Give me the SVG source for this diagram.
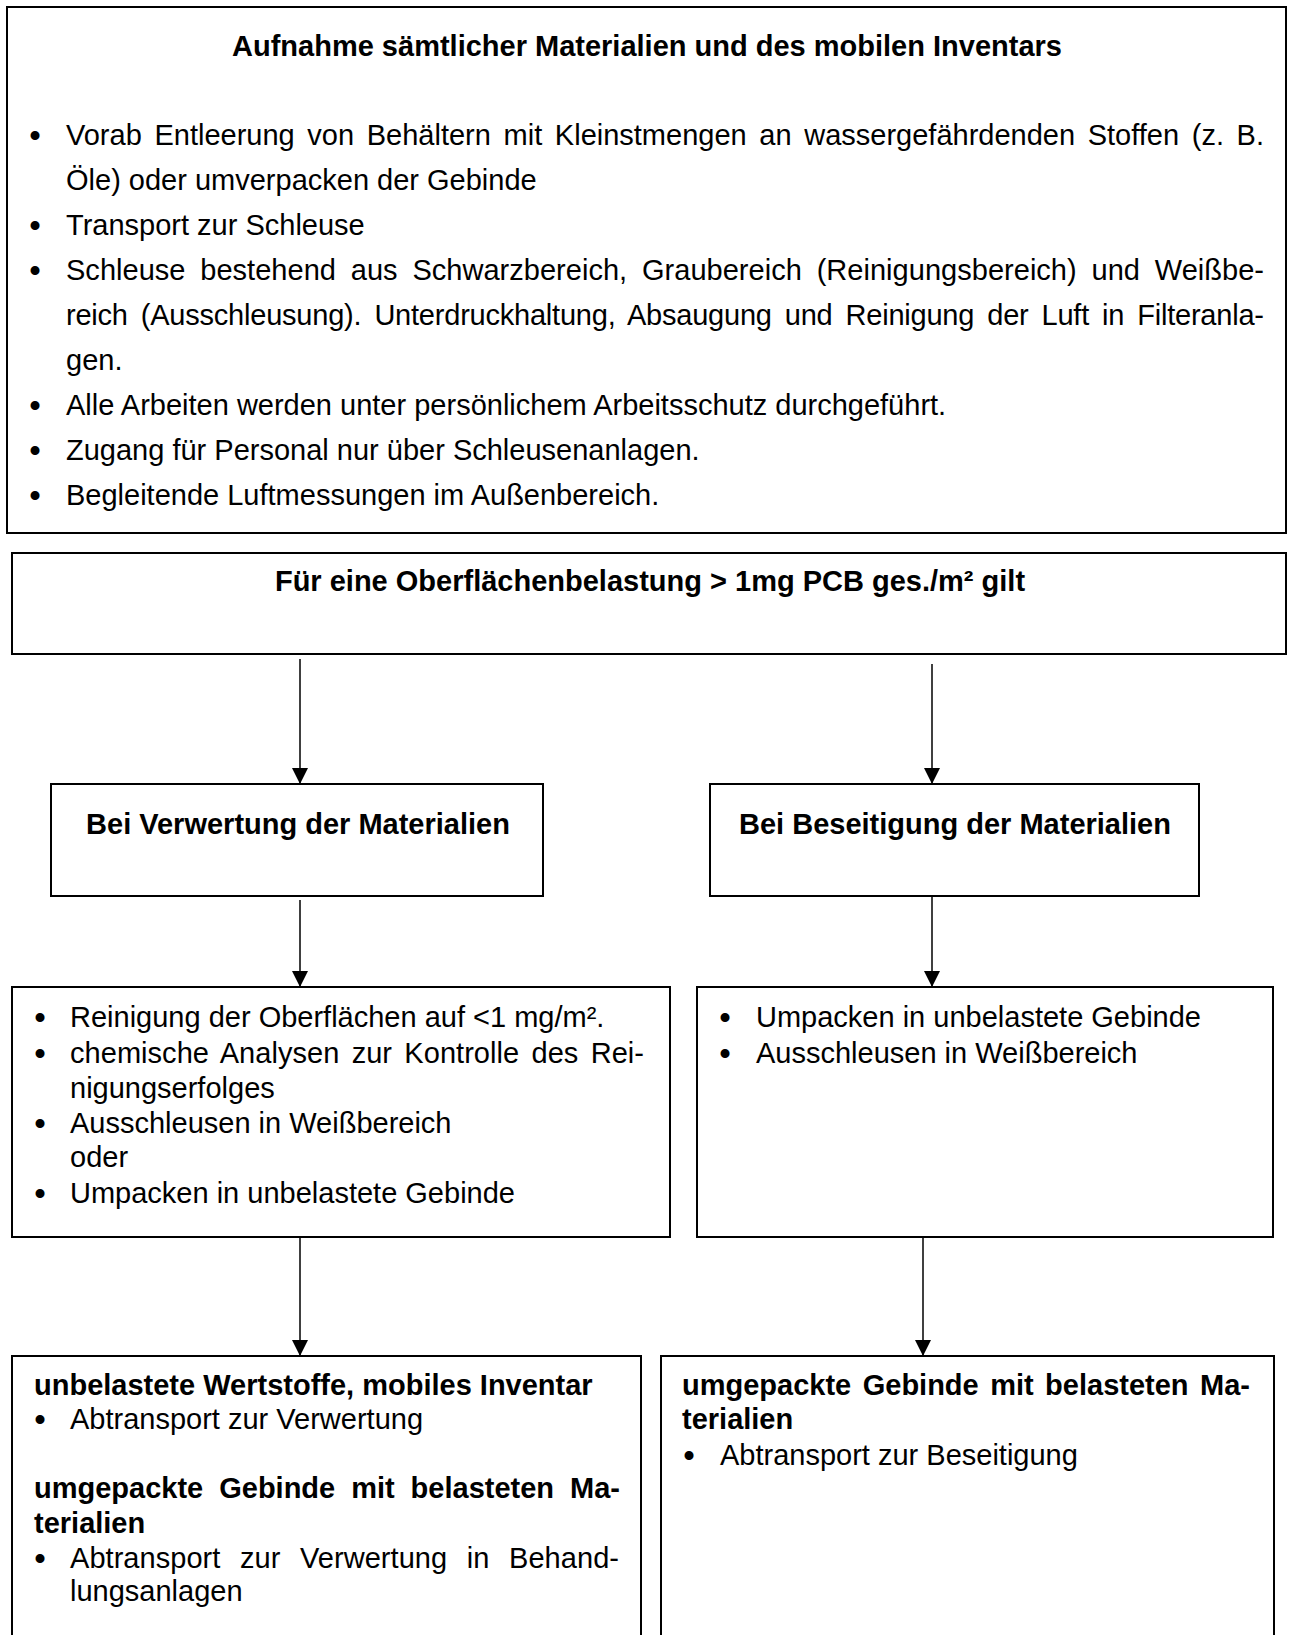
<svg xmlns="http://www.w3.org/2000/svg" width="1290" height="1635" viewBox="0 0 1290 1635">
<defs>
<style>
text{font-family:"Liberation Sans",Arial,sans-serif;font-size:29px;fill:#000}
.b{font-weight:bold}
.c{text-anchor:middle}
.bu{text-anchor:middle;font-size:33px}
.box{fill:#fff;stroke:#000;stroke-width:2}
.con{stroke:#000;stroke-width:1.5;fill:none}
</style>
<marker id="ah" markerUnits="userSpaceOnUse" markerWidth="18" markerHeight="18" refX="16" refY="8" orient="auto">
<path d="M0,0 L16,8 L0,16 z" fill="#000"/>
</marker>
</defs>
<rect width="1290" height="1635" fill="#fff"/>

<g id="node-aufnahme">
<rect class="box" x="7" y="7" width="1279" height="526"/>
<text class="b c" x="647" y="56">Aufnahme sämtlicher Materialien und des mobilen Inventars</text>
<text class="bu" x="35" y="147">•</text>
<text x="66" y="145" word-spacing="4.6" textLength="1198" lengthAdjust="spacing">Vorab Entleerung von Behältern mit Kleinstmengen an wassergefährdenden Stoffen (z. B.</text>
<text x="66" y="190">Öle) oder umverpacken der Gebinde</text>
<text class="bu" x="35" y="237">•</text>
<text x="66" y="235">Transport zur Schleuse</text>
<text class="bu" x="35" y="282">•</text>
<text x="66" y="280" word-spacing="6.7" textLength="1198" lengthAdjust="spacing">Schleuse bestehend aus Schwarzbereich, Graubereich (Reinigungsbereich) und Weißbe-</text>
<text x="66" y="325" word-spacing="5.2" textLength="1198" lengthAdjust="spacing">reich (Ausschleusung). Unterdruckhaltung, Absaugung und Reinigung der Luft in Filteranla-</text>
<text x="66" y="370">gen.</text>
<text class="bu" x="35" y="417">•</text>
<text x="66" y="415">Alle Arbeiten werden unter persönlichem Arbeitsschutz durchgeführt.</text>
<text class="bu" x="35" y="462">•</text>
<text x="66" y="460">Zugang für Personal nur über Schleusenanlagen.</text>
<text class="bu" x="35" y="507">•</text>
<text x="66" y="505">Begleitende Luftmessungen im Außenbereich.</text>
</g>

<g id="node-oberflaeche">
<rect class="box" x="12" y="553" width="1274" height="101"/>
<text class="b c" x="650" y="591">Für eine Oberflächenbelastung &gt; 1mg PCB ges./m² gilt</text>
</g>

<g id="node-verwertung">
<rect class="box" x="51" y="784" width="492" height="112"/>
<text class="b c" x="298" y="834">Bei Verwertung der Materialien</text>
</g>

<g id="node-beseitigung">
<rect class="box" x="710" y="784" width="489" height="112"/>
<text class="b c" x="955" y="834">Bei Beseitigung der Materialien</text>
</g>

<g id="node-reinigung">
<rect class="box" x="12" y="987" width="658" height="250"/>
<text class="bu" x="40" y="1029">•</text>
<text x="70" y="1027">Reinigung der Oberflächen auf &lt;1 mg/m².</text>
<text class="bu" x="40" y="1065">•</text>
<text x="70" y="1063" word-spacing="4.2" textLength="574" lengthAdjust="spacing">chemische Analysen zur Kontrolle des Rei-</text>
<text x="70" y="1098">nigungserfolges</text>
<text class="bu" x="40" y="1135">•</text>
<text x="70" y="1133">Ausschleusen in Weißbereich</text>
<text x="70" y="1167">oder</text>
<text class="bu" x="40" y="1205">•</text>
<text x="70" y="1203">Umpacken in unbelastete Gebinde</text>
</g>

<g id="node-umpacken">
<rect class="box" x="697" y="987" width="576" height="250"/>
<text class="bu" x="725" y="1029">•</text>
<text x="756" y="1027">Umpacken in unbelastete Gebinde</text>
<text class="bu" x="725" y="1065">•</text>
<text x="756" y="1063">Ausschleusen in Weißbereich</text>
</g>

<g id="node-wertstoffe">
<rect class="box" x="12" y="1356" width="629" height="300"/>
<text class="b" x="34" y="1395">unbelastete Wertstoffe, mobiles Inventar</text>
<text class="bu" x="40" y="1431">•</text>
<text x="70" y="1429">Abtransport zur Verwertung</text>
<text class="b" x="34" y="1498" word-spacing="7.9" textLength="586" lengthAdjust="spacing">umgepackte Gebinde mit belasteten Ma-</text>
<text class="b" x="34" y="1533">terialien</text>
<text class="bu" x="40" y="1570">•</text>
<text x="70" y="1568" word-spacing="11.5" textLength="549" lengthAdjust="spacing">Abtransport zur Verwertung in Behand-</text>
<text x="70" y="1601">lungsanlagen</text>
</g>

<g id="node-beseitigung-gebinde">
<rect class="box" x="661" y="1356" width="613" height="300"/>
<text class="b" x="682" y="1395" word-spacing="3.4" textLength="568" lengthAdjust="spacing">umgepackte Gebinde mit belasteten Ma-</text>
<text class="b" x="682" y="1429">terialien</text>
<text class="bu" x="689" y="1467">•</text>
<text x="720" y="1465">Abtransport zur Beseitigung</text>
</g>

<g id="connectors">
<line class="con" x1="300" y1="659" x2="300" y2="784" marker-end="url(#ah)"/>
<line class="con" x1="932" y1="664" x2="932" y2="784" marker-end="url(#ah)"/>
<line class="con" x1="300" y1="900" x2="300" y2="987" marker-end="url(#ah)"/>
<line class="con" x1="932" y1="896" x2="932" y2="987" marker-end="url(#ah)"/>
<line class="con" x1="300" y1="1237" x2="300" y2="1356" marker-end="url(#ah)"/>
<line class="con" x1="923" y1="1237" x2="923" y2="1356" marker-end="url(#ah)"/>
</g>
</svg>
